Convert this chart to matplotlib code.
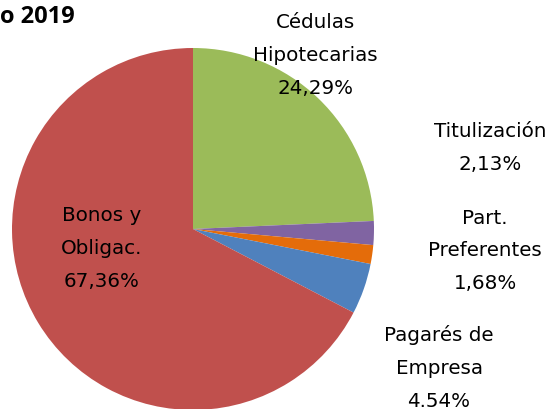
import matplotlib
matplotlib.use("Agg")
import matplotlib.pyplot as plt

categories = ["Cédulas\nHipotecarias", "Titulización", "Part.\nPreferentes", "Pagarés de\nEmpresa", "Bonos y\nObligac."]
values = [24.29, 2.13, 1.68, 4.54, 67.36]
pct_labels = ["24,29%", "2,13%", "1,68%", "4.54%", "67,36%"]
colors = ["#9BBB59", "#8064A2", "#E46C0A", "#4F81BD", "#C0504D"]
title = "o 2019"

W, H = 558, 409
fig = plt.figure(figsize=(W / 100, H / 100), dpi=100)

cx, cy, r = 193, 229, 181
ax = fig.add_axes([(cx - r) / W, (H - cy - r) / H, 2 * r / W, 2 * r / H])
ax.pie(values, colors=colors, startangle=90, counterclock=False, radius=1,
       wedgeprops=dict(linewidth=0))
ax.set_xlim(-1, 1)
ax.set_ylim(-1, 1)
ax.set_aspect("equal")
ax.axis("off")

# label block centers (pixel coords from top-left)
label_pos = [(315, 55.5), (490, 148), (485, 251), (439, 368), (102, 248.5)]
font = "DejaVu Sans"
for cat, pl, (lx, ly) in zip(categories, pct_labels, label_pos):
    txt = f"{cat}\n{pl}"
    fig.text(lx / W, 1 - ly / H, txt, ha="center", va="center",
             multialignment="center", fontsize=14.3, family=font,
             linespacing=1.92, color="#000000")

fig.text(0 / W, 1 - 17 / H, title, ha="left", va="center", fontsize=17,
         fontweight="bold", family="Open Sans")

fig.savefig("out.png", dpi=100)
